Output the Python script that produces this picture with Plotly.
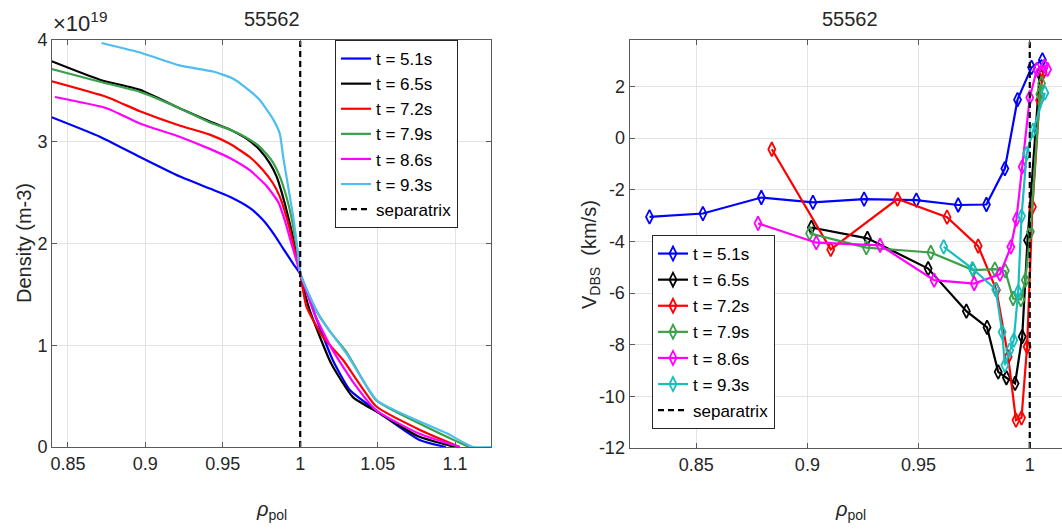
import plotly.graph_objects as go

W, H = 1062, 531

# ---- density profiles (left), units of 1e19 m^-3 ----
times = ['t = 5.1s', 't = 6.5s', 't = 7.2s', 't = 7.9s', 't = 8.6s', 't = 9.3s']

rho_51 = [0.838, 0.8706, 0.8965, 0.922, 0.9416, 0.9545, 0.9674, 0.976, 0.9835, 0.989, 0.9955, 1.0, 1.01, 1.021, 1.032, 1.049, 1.077, 1.094]
ne_51 = [3.25, 3.05, 2.85, 2.66, 2.54, 2.46, 2.35, 2.23, 2.08, 1.95, 1.80, 1.70, 1.28, 0.855, 0.56, 0.36, 0.07, 0.0]
rho_65 = [0.838, 0.8706, 0.8965, 0.922, 0.9416, 0.9545, 0.9653, 0.9739, 0.9803, 0.9847, 0.9879, 0.9911, 0.9943, 0.9975, 1.0, 1.006, 1.02, 1.034, 1.049, 1.077, 1.1]
ne_65 = [3.80, 3.61, 3.51, 3.33, 3.20, 3.12, 3.03, 2.92, 2.79, 2.66, 2.51, 2.33, 2.13, 1.90, 1.70, 1.35, 0.82, 0.49, 0.35, 0.10, 0.0]
rho_72 = [0.838, 0.875, 0.8965, 0.922, 0.9416, 0.9545, 0.9674, 0.976, 0.9825, 0.9868, 0.9911, 0.9955, 0.998, 1.0, 1.004, 1.0147, 1.0277, 1.049, 1.077, 1.103]
ne_72 = [3.60, 3.44, 3.30, 3.16, 3.07, 2.98, 2.85, 2.72, 2.59, 2.46, 2.26, 2.00, 1.84, 1.70, 1.38, 1.08, 0.855, 0.40, 0.17, 0.0]
rho_79 = [0.838, 0.8706, 0.8965, 0.922, 0.9416, 0.9545, 0.9653, 0.9739, 0.9814, 0.9868, 0.9911, 0.9943, 0.997, 0.9992, 1.0, 1.01, 1.02, 1.03, 1.049, 1.077, 1.096, 1.109]
ne_79 = [3.72, 3.59, 3.49, 3.33, 3.19, 3.12, 3.04, 2.95, 2.82, 2.66, 2.46, 2.26, 2.03, 1.84, 1.70, 1.35, 1.12, 0.93, 0.46, 0.23, 0.09, 0.0]
rho_86 = [0.8416, 0.875, 0.8965, 0.922, 0.9416, 0.9545, 0.9674, 0.978, 0.9857, 0.99, 0.9943, 0.998, 1.0, 1.01, 1.021, 1.035, 1.049, 1.077, 1.103]
ne_86 = [3.44, 3.33, 3.18, 3.05, 2.93, 2.84, 2.72, 2.57, 2.41, 2.23, 2.00, 1.81, 1.70, 1.28, 0.95, 0.62, 0.36, 0.13, 0.0]
rho_93 = [0.8717, 0.898, 0.922, 0.9437, 0.9567, 0.969, 0.9739, 0.9825, 0.9868, 0.989, 0.9922, 0.9955, 0.998, 1.0, 1.0126, 1.0298, 1.0494, 1.075, 1.0946, 1.1116, 1.123]
ne_93 = [3.97, 3.87, 3.75, 3.69, 3.62, 3.48, 3.41, 3.22, 3.08, 2.85, 2.56, 2.26, 1.97, 1.71, 1.28, 0.92, 0.46, 0.265, 0.135, 0.0, 0.0]

# ---- DBS velocity (right), km/s ----
vx_51 = [0.829, 0.853, 0.8793, 0.9025, 0.9255, 0.949, 0.9678, 0.9805, 0.9888, 0.9945, 1.0008, 1.0057]
v_51 = [-3.05, -2.92, -2.30, -2.49, -2.36, -2.40, -2.59, -2.57, -1.18, 1.49, 2.74, 3.03]
vx_65 = [0.9018, 0.927, 0.9543, 0.9715, 0.9808, 0.9858, 0.9895, 0.9934, 0.9966, 0.999, 1.0045]
v_65 = [-3.46, -3.88, -5.05, -6.70, -7.33, -9.05, -9.28, -9.50, -7.69, -3.95, 2.5]
vx_72 = [0.884, 0.9105, 0.9405, 0.9628, 0.9768, 0.985, 0.9903, 0.9938, 0.9963, 0.9988, 1.0012, 1.0044, 1.006]
v_72 = [-0.43, -4.31, -2.36, -3.06, -4.18, -5.88, -8.47, -10.92, -10.83, -8.08, -2.66, 1.47, 2.55]
vx_79 = [0.901, 0.9265, 0.9555, 0.9745, 0.9843, 0.989, 0.9925, 0.996, 0.998, 1.0003, 1.0045, 1.0053]
v_79 = [-3.69, -4.24, -4.43, -5.11, -5.07, -5.14, -6.21, -6.25, -5.5, -3.63, 1.7, 2.12]
vx_86 = [0.8778, 0.904, 0.9327, 0.957, 0.975, 0.9866, 0.9915, 0.994, 0.9966, 1.0, 1.0032, 1.0066, 1.008]
v_86 = [-3.30, -4.05, -4.15, -5.50, -5.63, -5.27, -4.21, -3.14, -1.11, 1.57, 2.66, 2.79, 2.66]
vx_93 = [0.9613, 0.9742, 0.9847, 0.9876, 0.9888, 0.991, 0.9928, 0.9948, 0.9963, 0.9986, 1.0015, 1.0068]
v_93 = [-4.21, -5.05, -5.86, -7.51, -8.79, -8.21, -7.82, -5.95, -3.02, -0.6, 0.3, 1.75]

# tick labels
left_xticks = [0.85, 0.9, 0.95, 1, 1.05, 1.1]
left_xlabels = ['0.85', '0.9', '0.95', '1', '1.05', '1.1']
left_yticks = [0, 1, 2, 3, 4]
right_xticks = [0.85, 0.9, 0.95, 1]
right_xlabels = ['0.85', '0.9', '0.95', '1']
right_yticks = [-12, -10, -8, -6, -4, -2, 0, 2]
right_ylabels = ['-12', '-10', '-8', '-6', '-4', '-2', '0', '2']

ne_x = [rho_51, rho_65, rho_72, rho_79, rho_86, rho_93]
ne_y = [ne_51, ne_65, ne_72, ne_79, ne_86, ne_93]
v_x = [vx_51, vx_65, vx_72, vx_79, vx_86, vx_93]
v_y = [v_51, v_65, v_72, v_79, v_86, v_93]

colors_left = ['#0000FF', '#000000', '#FF0000', '#3AA04A', '#FF00FF', '#4DBEEE']
colors_right = ['#0000FF', '#000000', '#FF0000', '#3AA04A', '#FF00FF', '#17BEBE']

FONT = 'Liberation Sans'
TXT = '#262626'

def px(x):  # pixel -> paper x
    return x / W

def py(y):  # pixel -> paper y
    return 1 - y / H

fig = go.Figure()

for name, xs, ys, c in zip(times, ne_x, ne_y, colors_left):
    fig.add_trace(go.Scatter(x=xs, y=ys, mode='lines', name=name,
                             line=dict(color=c, width=2.2, shape='spline', smoothing=0.5),
                             xaxis='x', yaxis='y', legend='legend'))
fig.add_trace(go.Scatter(x=[1, 1], y=[0, 4], mode='lines', name='separatrix',
                         line=dict(color='#000000', width=2.2, dash='6px,4px'),
                         xaxis='x', yaxis='y', legend='legend'))

for i, (name, xs, ys, c) in enumerate(zip(times, v_x, v_y, colors_right)):
    fig.add_trace(go.Scatter(x=xs, y=ys, mode='lines+markers', name=name, legendgroup='r%d' % i,
                             line=dict(color=c, width=2.2),
                             marker=dict(symbol='diamond-tall-open', size=10, color=c, line=dict(width=1.8, color=c)),
                             xaxis='x2', yaxis='y2', legend='legend2'))
fig.add_trace(go.Scatter(x=[1, 1], y=[-12, 3.8], mode='lines', name='separatrix', legendgroup='rsep',
                         line=dict(color='#000000', width=2.2, dash='6px,4px'),
                         xaxis='x2', yaxis='y2', legend='legend2'))

axis_common = dict(showgrid=True, gridcolor='#E3E3E3', gridwidth=1,
                   showline=True, linecolor='#5a5a5a', linewidth=1,
                   ticks='inside', ticklen=5, tickcolor='#5a5a5a',
                   tickfont=dict(family=FONT, size=18, color=TXT), zeroline=False)

fig.update_layout(
    width=W, height=H, autosize=False,
    margin=dict(l=0, r=0, t=0, b=0, pad=0, autoexpand=False),
    paper_bgcolor='white', plot_bgcolor='white',
    font=dict(family=FONT, color=TXT),
    xaxis=dict(domain=[px(52), px(491)], range=[0.8397, 1.1232], tickvals=left_xticks,
               ticktext=left_xlabels, mirror='all', anchor='y', **axis_common),
    yaxis=dict(domain=[py(447), py(40)], range=[0, 4], tickvals=left_yticks, mirror='all', anchor='x', **axis_common),
    xaxis2=dict(domain=[px(629.5), 1.0], range=[0.82, 1.0145], tickvals=right_xticks,
                ticktext=right_xlabels, mirror='all', anchor='y2', **axis_common),
    yaxis2=dict(domain=[py(448), py(40)], range=[-12, 3.8], tickvals=right_yticks, ticktext=right_ylabels,
                anchor='x2', **axis_common),
    legend=dict(x=px(335), y=py(40), xanchor='left', yanchor='top',
                bgcolor='white', bordercolor='#262626', borderwidth=1,
                font=dict(family=FONT, size=17, color='#000'), itemwidth=30, tracegroupgap=0),
    legend2=dict(x=px(652), y=py(235), xanchor='left', yanchor='top',
                 bgcolor='white', bordercolor='#262626', borderwidth=1, traceorder='grouped',
                 font=dict(family=FONT, size=17, color='#000'), itemwidth=30, tracegroupgap=1),
    showlegend=True,
)

annots = [
    dict(x=px(272), y=py(19), text='55562', font=dict(size=20)),
    dict(x=px(850), y=py(19), text='55562', font=dict(size=20)),
    dict(x=px(51), y=py(22), text='\u00d710<sup>19</sup>', font=dict(size=22), xanchor='left'),
    dict(x=px(271), y=py(510), text='<i>\u03c1</i><sub>pol</sub>', font=dict(size=20)),
    dict(x=px(850), y=py(510), text='<i>\u03c1</i><sub>pol</sub>', font=dict(size=20)),
    dict(x=px(24), y=py(243), text='Density (m-3)', font=dict(size=20), textangle=-90),
    dict(x=px(590), y=py(255), text='V<sub>DBS</sub>  (km/s)', font=dict(size=20), textangle=-90),
]
for a in annots:
    a.setdefault('xanchor', 'center')
    fig.add_annotation(xref='paper', yref='paper', showarrow=False, yanchor='middle', **a)
    fig.layout.annotations[-1].font.family = FONT
    fig.layout.annotations[-1].font.color = TXT

# the page's default body margin would offset the figure
fig.write_html("out.html", config={'displayModeBar': False},
               post_script="document.body.style.margin='0';document.body.style.overflow='hidden';")
